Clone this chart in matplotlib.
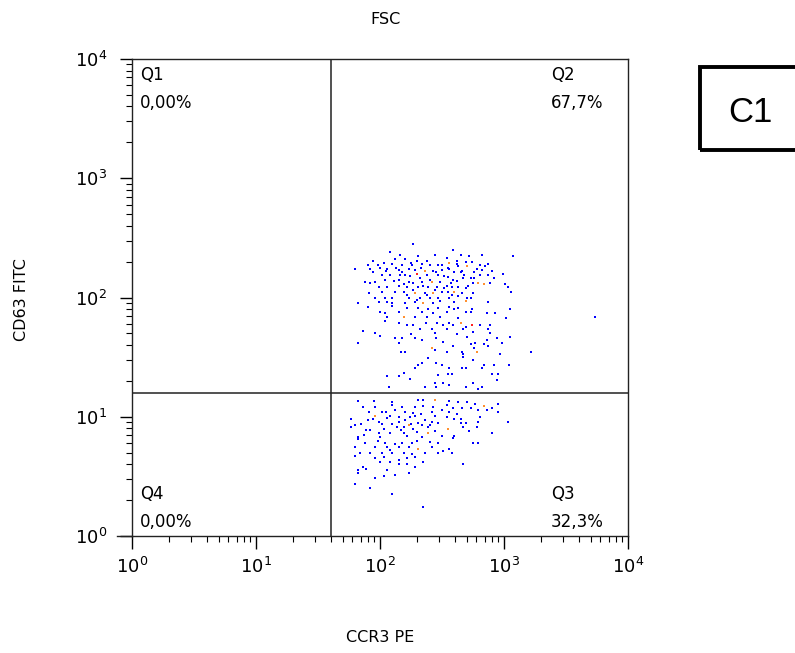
"""Flow cytometry dot plot: CCR3 PE vs CD63 FITC, quadrant gate C1."""
import matplotlib
matplotlib.use("Agg")
import matplotlib.pyplot as plt
import numpy as np
from matplotlib.lines import Line2D
from matplotlib.patches import Rectangle
from matplotlib.ticker import LogLocator, NullFormatter

plt.rcParams["font.family"] = ["DejaVu Sans"]
plt.rcParams["mathtext.default"] = "regular"

# events as (log10 CCR3 PE, log10 CD63 FITC)
upper_events = [
    (2.27, 2.45), (2.08, 2.38), (2.16, 2.36), (2.44, 2.36), (2.31, 2.35), (2.20, 2.32),
    (2.12, 2.32), (2.30, 2.31), (2.38, 2.31), (1.94, 2.31), (1.90, 2.27), (1.98, 2.27),
    (2.03, 2.29), (2.10, 2.28), (2.18, 2.27), (2.26, 2.27), (2.34, 2.28), (2.40, 2.27),
    (2.47, 2.27), (1.80, 2.24), (1.92, 2.24), (2.00, 2.25), (2.06, 2.24), (2.15, 2.23),
    (2.23, 2.24), (2.28, 2.23), (2.43, 2.22), (2.50, 2.23), (1.94, 2.21), (2.02, 2.19),
    (2.08, 2.19), (2.20, 2.19), (2.38, 2.19), (2.47, 2.19), (1.88, 2.13), (1.96, 2.13),
    (2.04, 2.15), (2.15, 2.15), (2.23, 2.13), (2.27, 2.12), (2.34, 2.13), (2.48, 2.13),
    (1.92, 2.12), (1.99, 2.09), (2.06, 2.09), (2.15, 2.10), (2.22, 2.09), (2.31, 2.09),
    (2.39, 2.09), (2.46, 2.09), (1.91, 2.04), (2.02, 2.05), (2.12, 2.05), (2.19, 2.05),
    (2.36, 2.04), (2.50, 2.05), (1.96, 2.00), (2.04, 2.00), (2.10, 2.00), (2.23, 2.00),
    (2.32, 2.00), (2.40, 2.00), (2.47, 2.00), (1.82, 1.95), (1.99, 1.96), (2.06, 1.96),
    (2.10, 1.95), (2.20, 1.95), (2.28, 1.96), (2.43, 1.95), (1.90, 1.92), (2.10, 1.93),
    (2.22, 1.91), (2.31, 1.91), (2.39, 1.90), (2.47, 1.91), (2.00, 1.88), (2.04, 1.87),
    (2.15, 1.88), (2.34, 1.88), (2.43, 1.87), (2.06, 1.84), (2.28, 1.84), (2.38, 1.84),
    (2.48, 1.84),
    (2.59, 2.40), (2.65, 2.36), (2.72, 2.35), (2.82, 2.36), (3.07, 2.35), (2.54, 2.33),
    (2.62, 2.31), (2.69, 2.30), (2.74, 2.30), (2.81, 2.27), (2.87, 2.28), (2.85, 2.26),
    (2.63, 2.26), (2.55, 2.25), (2.60, 2.21), (2.65, 2.21), (2.76, 2.21), (2.81, 2.19),
    (2.87, 2.19), (2.90, 2.22), (2.99, 2.20), (2.55, 2.17), (2.59, 2.15), (2.67, 2.16),
    (2.73, 2.16), (2.75, 2.12), (2.89, 2.12), (3.01, 2.11), (3.03, 2.09), (2.54, 2.10),
    (2.58, 2.09), (2.63, 2.09), (2.69, 2.08), (2.55, 2.05), (2.66, 2.04), (2.75, 2.04),
    (3.06, 2.05), (2.56, 2.00), (2.63, 2.01), (2.70, 2.00), (2.73, 2.00), (2.60, 1.96),
    (2.56, 1.92), (2.63, 1.91), (2.74, 1.90), (2.87, 1.96), (2.54, 1.88), (2.60, 1.90),
    (2.69, 1.88), (2.73, 1.88), (2.86, 1.87), (2.93, 1.87), (3.05, 1.90), (2.63, 1.83),
    (3.02, 1.83), (3.73, 1.84),
    (2.05, 2.22), (2.13, 2.25), (2.18, 2.21), (2.24, 2.18), (2.32, 2.16), (2.40, 2.15),
    (2.45, 2.21), (2.52, 2.18), (2.57, 2.12), (2.62, 2.14), (2.68, 2.19), (2.71, 2.10),
    (2.78, 2.24), (2.35, 2.10), (2.27, 2.06), (2.19, 2.11), (2.11, 2.14), (2.52, 2.08),
    (2.58, 2.02), (2.44, 2.06), (2.38, 2.02), (2.30, 1.98), (2.22, 2.02), (2.48, 1.97),
    (2.66, 2.22), (2.76, 2.16), (2.82, 2.23), (2.92, 2.16), (2.50, 2.27), (2.56, 2.24),
    (2.62, 2.28), (2.33, 2.25), (2.25, 2.29), (2.16, 2.19),
    (2.04, 1.80), (2.15, 1.79), (2.22, 1.77), (2.27, 1.77), (2.37, 1.79), (2.46, 1.79),
    (2.51, 1.77), (2.32, 1.74), (2.42, 1.74), (1.86, 1.72), (1.96, 1.70), (2.00, 1.68),
    (2.25, 1.69), (2.44, 1.70), (2.12, 1.66), (2.18, 1.66), (2.28, 1.66), (2.45, 1.66),
    (1.82, 1.62), (2.15, 1.62), (2.34, 1.64), (2.51, 1.63), (2.44, 1.56), (2.17, 1.54),
    (2.20, 1.54), (2.39, 1.49), (2.34, 1.45), (2.31, 1.43), (2.45, 1.45), (2.50, 1.43),
    (2.28, 1.41), (2.19, 1.37), (2.15, 1.34), (2.06, 1.34), (2.24, 1.32), (2.47, 1.35),
    (2.44, 1.28), (2.51, 1.28), (2.36, 1.25), (2.45, 1.25), (2.07, 1.25),
    (2.56, 1.79), (2.59, 1.77), (2.69, 1.75), (2.81, 1.77), (2.89, 1.77), (2.54, 1.74),
    (2.67, 1.74), (2.75, 1.71), (2.87, 1.74), (2.62, 1.69), (2.70, 1.67), (2.89, 1.70),
    (3.05, 1.67), (2.86, 1.64), (2.94, 1.66), (2.73, 1.61), (2.77, 1.62), (2.84, 1.61),
    (2.98, 1.62), (2.59, 1.59), (2.76, 1.58), (2.87, 1.59), (2.54, 1.54), (2.66, 1.54),
    (2.67, 1.53), (2.97, 1.53), (3.22, 1.54), (2.67, 1.50), (2.75, 1.48), (2.84, 1.43),
    (2.92, 1.43), (3.04, 1.43), (2.56, 1.41), (2.66, 1.41), (2.69, 1.41), (2.82, 1.41),
    (2.55, 1.36), (2.58, 1.36), (2.90, 1.36), (2.95, 1.36), (2.94, 1.31), (2.75, 1.28),
    (2.56, 1.27), (2.69, 1.25), (2.82, 1.25), (2.79, 1.23),
]

lower_events = [
    (1.82, 1.13), (1.95, 1.13), (2.10, 1.12), (2.31, 1.14), (2.35, 1.14), (2.10, 1.10),
    (1.86, 1.08), (1.96, 1.08), (2.18, 1.08), (2.28, 1.08), (2.35, 1.09), (2.43, 1.08),
    (1.91, 1.04), (2.02, 1.04), (2.05, 1.04), (2.20, 1.04), (2.27, 1.03), (2.42, 1.04),
    (2.50, 1.06), (2.08, 1.01), (2.15, 1.00), (2.28, 1.01), (2.44, 1.01), (1.77, 0.98),
    (1.90, 0.97), (1.99, 0.96), (2.06, 0.99), (2.15, 0.96), (2.20, 0.97), (2.36, 0.97),
    (2.42, 0.96), (1.80, 0.93), (2.02, 0.94), (2.10, 0.94), (2.31, 0.95), (2.34, 0.93),
    (2.47, 0.95), (1.77, 0.91), (1.89, 0.89), (1.92, 0.89), (2.03, 0.90), (2.14, 0.91),
    (2.19, 0.91), (2.27, 0.90), (2.39, 0.91), (2.44, 0.88), (1.99, 0.86), (2.08, 0.86),
    (2.19, 0.86), (2.30, 0.87), (2.50, 0.84), (1.82, 0.83), (2.00, 0.83), (2.22, 0.84),
    (2.34, 0.83), (1.82, 0.81), (1.88, 0.78), (2.04, 0.78), (2.12, 0.77), (2.18, 0.78),
    (2.26, 0.78), (2.40, 0.79), (2.47, 0.78), (1.80, 0.75), (1.96, 0.75), (2.06, 0.75),
    (2.15, 0.75), (2.23, 0.75), (2.42, 0.75), (2.51, 0.71), (1.84, 0.70), (1.92, 0.70),
    (2.02, 0.70), (2.10, 0.70), (2.19, 0.70), (2.26, 0.69), (2.36, 0.70), (2.47, 0.70),
    (1.80, 0.67), (1.96, 0.65), (2.03, 0.66), (2.08, 0.62), (2.15, 0.64), (2.22, 0.65),
    (2.28, 0.66), (2.35, 0.62), (2.00, 0.62), (2.15, 0.60), (2.22, 0.60), (2.28, 0.58),
    (1.86, 0.58), (1.89, 0.56), (1.82, 0.55), (1.82, 0.53), (2.06, 0.55), (2.23, 0.53),
    (2.12, 0.51), (1.96, 0.49), (2.03, 0.50), (1.80, 0.44), (1.92, 0.40), (2.10, 0.35),
    (2.35, 0.24),
    (1.85, 0.94), (1.94, 0.98), (2.12, 1.06), (2.24, 1.00), (2.33, 1.02), (2.40, 0.93),
    (2.17, 0.89), (1.98, 0.80), (2.08, 0.72), (2.30, 0.80), (1.87, 0.85), (2.25, 0.94),
    (2.56, 1.13), (2.63, 1.12), (2.70, 1.12), (2.77, 1.11), (2.95, 1.11), (2.54, 1.10),
    (2.59, 1.07), (2.66, 1.07), (2.73, 1.07), (2.79, 1.06), (2.86, 1.06), (2.90, 1.07),
    (2.95, 1.04), (2.56, 1.04), (2.62, 1.02), (2.54, 1.00), (2.60, 0.98), (2.65, 0.98),
    (2.81, 1.00), (2.79, 0.96), (3.03, 0.96), (2.65, 0.95), (2.69, 0.95), (2.67, 0.91),
    (2.72, 0.88), (2.78, 0.91), (2.90, 0.86), (2.60, 0.84), (2.59, 0.82), (2.75, 0.78),
    (2.79, 0.78), (2.56, 0.73), (2.58, 0.70), (2.67, 0.60),
]

# denser events (warm colours in the density plot)
orange_events = [
    (2.36, 2.22), (2.42, 2.13), (2.28, 2.04), (2.43, 2.04), (2.35, 1.95), (2.19, 1.84),
    (2.56, 2.29), (2.70, 2.26), (2.79, 2.12), (2.84, 2.11), (2.60, 2.05), (2.69, 1.97),
    (2.42, 1.58), (2.65, 1.79), (2.78, 1.54),
    (2.44, 1.14), (1.96, 1.01), (2.23, 0.93), (2.39, 0.86), (2.31, 0.73), (2.84, 1.09),
    (2.55, 0.90),
]
red_events = [(2.30, 2.20), (2.74, 1.77)]

quad_x = 40      # vertical gate, CCR3 PE
quad_y = 15.8    # horizontal gate, CD63 FITC
quadrants = {"Q1": "0,00%", "Q2": "67,7%", "Q3": "32,3%", "Q4": "0,00%"}

fig = plt.figure(figsize=(7.95, 6.53), dpi=100)
ax = fig.add_axes([132 / 795, 117 / 653, 496 / 795, 477 / 653])

for pts, col in [(upper_events + lower_events, "#0000ff"),
                 (orange_events, "#ff9030"), (red_events, "#ff2020")]:
    arr = 10 ** np.array(pts)
    ax.plot(arr[:, 0], arr[:, 1], ls="none", marker="s", ms=2.1, mew=0,
            color=col, zorder=3)

ax.set_xscale("log")
ax.set_yscale("log")
ax.set_xlim(1, 1e4)
ax.set_ylim(1, 1e4)

ax.axvline(quad_x, color="#222222", lw=1.1, zorder=2)
ax.axhline(quad_y, color="#222222", lw=1.1, zorder=2)

for axis in (ax.xaxis, ax.yaxis):
    axis.set_minor_locator(LogLocator(base=10, subs=np.arange(2, 10), numticks=10))
    axis.set_minor_formatter(NullFormatter())
ax.set_xticks([1, 10, 100, 1000, 10000])
ax.set_xticklabels([f"$10^{{{i}}}$" for i in range(5)])
ax.set_yticks([1, 10, 100, 1000, 10000])
ax.set_yticklabels([f"$10^{{{i}}}$" for i in range(5)])
ax.tick_params(which="major", direction="out", length=9, width=1, labelsize=13, pad=6)
ax.tick_params(which="minor", direction="out", length=4.5, width=0.8)
ax.tick_params(axis="y", pad=9)

for sp in ax.spines.values():
    sp.set_linewidth(1)
    sp.set_color("#222222")

# x axis line runs a little past the frame on the left, as in the export
ax.add_line(Line2D([-0.03, 0], [0, 0], transform=ax.transAxes, color="#222222",
                   lw=1, clip_on=False))

txt = dict(transform=ax.transAxes, fontsize=12, va="top", ha="left")
ax.text(0.016, 0.985, "Q1", **txt)
ax.text(0.016, 0.927, quadrants["Q1"], **txt)
ax.text(0.845, 0.985, "Q2", **txt)
ax.text(0.845, 0.927, quadrants["Q2"], **txt)
ax.text(0.016, 0.107, "Q4", **txt)
ax.text(0.016, 0.048, quadrants["Q4"], **txt)
ax.text(0.845, 0.107, "Q3", **txt)
ax.text(0.845, 0.048, quadrants["Q3"], **txt)

fig.text(385 / 795, 1 - 20 / 653, "FSC", ha="center", va="center", fontsize=11.5)
fig.text(380 / 795, 1 - 638 / 653, "CCR3 PE", ha="center", va="center", fontsize=11.5)
fig.text(22 / 795, 1 - 300 / 653, "CD63 FITC", ha="center", va="center",
         fontsize=11.5, rotation=90)

fig.patches.append(Rectangle((700 / 795, 1 - 150 / 653), 0.2, 83 / 653,
                             transform=fig.transFigure, fill=False, lw=2.8,
                             edgecolor="black"))
fig.text(750 / 795, 1 - 112 / 653, "C1", ha="center", va="center",
         fontsize=25, family="Liberation Sans")

fig.savefig("out.png", dpi=100)
